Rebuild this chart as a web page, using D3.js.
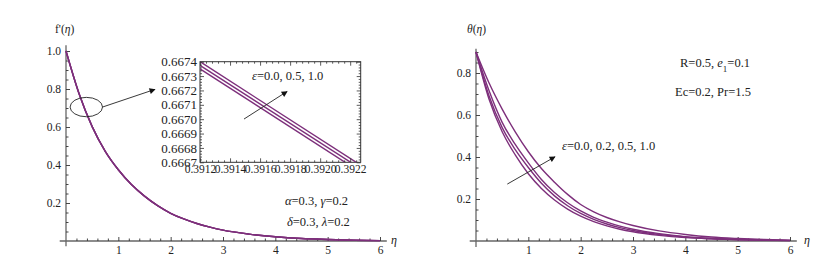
<!DOCTYPE html>
<html>
<head>
<meta charset="utf-8">
<script src="https://cdn.jsdelivr.net/npm/d3@7"></script>
<style>
  html, body { margin: 0; padding: 0; background: #fff; }
  svg text { font-family: "Liberation Serif", "Times New Roman", serif; fill: #222; }
</style>
</head>
<body>
<svg id="chart" width="838" height="264"></svg>
<script>
// velocity f'(eta) for eps = 0.0, 0.5, 1.0 (curves coincide at this scale)
const etaGrid = [0, 0.25, 0.5, 0.75, 1, 1.25, 1.5, 1.75, 2, 2.25, 2.5, 2.75, 3, 3.5, 4, 4.5, 5, 5.5, 6];
const fpEps00 = [1.0, 0.77497, 0.60197, 0.47197, 0.37497, 0.29698, 0.23598, 0.18598, 0.14598, 0.11599, 0.09199, 0.07299, 0.05699, 0.03599, 0.02200, 0.01300, 0.00800, 0.00400, 0.00200];
const fpEps05 = [1.0, 0.77500, 0.60200, 0.47200, 0.37500, 0.29700, 0.23600, 0.18600, 0.14600, 0.11600, 0.09200, 0.07300, 0.05700, 0.03600, 0.02200, 0.01300, 0.00800, 0.00400, 0.00200];
const fpEps10 = [1.0, 0.77503, 0.60203, 0.47203, 0.37503, 0.29702, 0.23602, 0.18602, 0.14602, 0.11601, 0.09201, 0.07301, 0.05701, 0.03601, 0.02200, 0.01300, 0.00800, 0.00400, 0.00200];

// zoomed inset
const insetEta = [0.39120, 0.39227];
const insetEps00 = [0.667350, 0.666630];
const insetEps05 = [0.667375, 0.666655];
const insetEps10 = [0.667400, 0.666680];
const insetYTicks = [0.6667, 0.6668, 0.6669, 0.6670, 0.6671, 0.6672, 0.6673, 0.6674];
const insetXTicks = [0.3912, 0.3914, 0.3916, 0.3918, 0.3920, 0.3922];

// temperature theta(eta) for eps = 0.0, 0.2, 0.5, 1.0
const thetaEps00 = [0.90, 0.675, 0.520, 0.410, 0.320, 0.250, 0.195, 0.152, 0.118, 0.092, 0.072, 0.056, 0.044, 0.027, 0.016, 0.010, 0.006, 0.003, 0.002];
const thetaEps02 = [0.90, 0.690, 0.540, 0.435, 0.350, 0.275, 0.215, 0.168, 0.131, 0.103, 0.081, 0.064, 0.050, 0.031, 0.019, 0.011, 0.007, 0.004, 0.002];
const thetaEps05 = [0.90, 0.715, 0.565, 0.460, 0.372, 0.293, 0.231, 0.182, 0.143, 0.113, 0.090, 0.071, 0.056, 0.035, 0.021, 0.013, 0.008, 0.005, 0.003];
const thetaEps10 = [0.90, 0.752, 0.628, 0.520, 0.425, 0.345, 0.280, 0.222, 0.174, 0.139, 0.112, 0.091, 0.074, 0.048, 0.031, 0.019, 0.012, 0.007, 0.004];

const xTicks = [1, 2, 3, 4, 5, 6];
const leftYTicks = [0.2, 0.4, 0.6, 0.8, 1.0];
const rightYTicks = [0.2, 0.4, 0.6, 0.8];

const curveColor = '#7d2f7b';
const axisColor = '#666';

const svg = d3.select('#chart');

svg.append('defs').append('marker')
    .attr('id', 'arrowhead')
    .attr('viewBox', '0 0 10 10')
    .attr('refX', 9)
    .attr('refY', 5)
    .attr('markerWidth', 9)
    .attr('markerHeight', 6)
    .attr('markerUnits', 'userSpaceOnUse')
    .attr('orient', 'auto')
  .append('path')
    .attr('d', 'M0,0 L10,5 L0,10 z')
    .attr('fill', '#111');

function minorRange(lo, hi, step, majors) {
    const out = [];
    for (let v = lo; v <= hi + 1e-9; v += step) {
        const r = Math.round(v * 1e6) / 1e6;
        if (!majors.some(m => Math.abs(m - r) < 1e-9)) out.push(r);
    }
    return out;
}

function drawAxes(x, y, yTicks, yTop) {
    const g = svg.append('g');
    // axis lines
    g.append('line')
        .attr('x1', x(-0.12)).attr('x2', x(6.13))
        .attr('y1', y(0)).attr('y2', y(0))
        .attr('stroke', axisColor).attr('stroke-width', 1.3);
    g.append('line')
        .attr('x1', x(0)).attr('x2', x(0))
        .attr('y1', y(-0.028)).attr('y2', y(yTop))
        .attr('stroke', axisColor).attr('stroke-width', 1.3);

    // x ticks
    const xa = g.append('g')
        .attr('transform', `translate(0,${y(0)})`)
        .call(d3.axisBottom(x).tickValues(xTicks).tickSize(-4).tickPadding(5).tickFormat(d3.format('d')));
    const xm = g.append('g')
        .attr('transform', `translate(0,${y(0)})`)
        .call(d3.axisBottom(x).tickValues(minorRange(0.2, 6, 0.2, xTicks)).tickSize(-2.5).tickFormat(''));

    // y ticks
    const ya = g.append('g')
        .attr('transform', `translate(${x(0)},0)`)
        .call(d3.axisLeft(y).tickValues(yTicks).tickSize(-4).tickPadding(5).tickFormat(d3.format('.1f')));
    const ym = g.append('g')
        .attr('transform', `translate(${x(0)},0)`)
        .call(d3.axisLeft(y).tickValues(minorRange(0.05, yTop, 0.05, yTicks)).tickSize(-2.5).tickFormat(''));

    [xa, xm, ya, ym].forEach(a => {
        a.select('.domain').remove();
        a.selectAll('line').attr('stroke', '#333').attr('stroke-width', 0.9);
        a.selectAll('text').attr('font-size', '11.5px').attr('font-family', '"Liberation Serif", serif').attr('fill', '#222');
    });
}

function drawCurves(x, y, etas, seriesList) {
    const line = d3.line()
        .x((d, i) => x(etas[i]))
        .y(d => y(d))
        .curve(d3.curveMonotoneX);
    svg.append('g')
        .selectAll('path')
        .data(seriesList)
        .join('path')
            .attr('d', d => line(d))
            .attr('fill', 'none')
            .attr('stroke', curveColor)
            .attr('stroke-width', 1.4);
}

function addText(x, y, parts, size) {
    const t = svg.append('text')
        .attr('x', x).attr('y', y)
        .attr('font-size', size || '12.5px');
    parts.forEach(p => {
        const s = t.append('tspan').text(p.t);
        if (p.i) s.attr('font-style', 'italic');
        if (p.sub) s.attr('baseline-shift', 'sub').attr('font-size', '9px');
    });
    return t;
}

// ---------- left panel ----------
const xL = d3.scaleLinear().domain([0, 6]).range([66, 380]);
const yL = d3.scaleLinear().domain([0, 1]).range([241, 51]);

drawAxes(xL, yL, leftYTicks, 1.03);
drawCurves(xL, yL, etaGrid, [fpEps00, fpEps05, fpEps10]);

addText(55, 33, [{ t: "f'(" }, { t: 'η', i: true }, { t: ')' }], '11.5px');
addText(391, 244, [{ t: 'η', i: true }], '12px');

// ellipse marking the zoomed region
const ellCx = 0.388, ellCy = 0.705;
svg.append('ellipse')
    .attr('cx', xL(ellCx)).attr('cy', yL(ellCy))
    .attr('rx', xL(0.31) - xL(0)).attr('ry', yL(0) - yL(0.051))
    .attr('fill', 'none').attr('stroke', '#222').attr('stroke-width', 0.9);
svg.append('line')
    .attr('x1', xL(ellCx + 0.31)).attr('y1', yL(ellCy))
    .attr('x2', xL(1.70)).attr('y2', yL(0.798))
    .attr('stroke', '#222').attr('stroke-width', 0.9)
    .attr('marker-end', 'url(#arrowhead)');

// inset
const xI = d3.scaleLinear().domain(insetEta).range([200, 360.7]);
const yI = d3.scaleLinear().domain([0.6667, 0.6674]).range([162.3, 61.7]);

svg.append('rect')
    .attr('x', 200).attr('y', 61.7)
    .attr('width', 160.7).attr('height', 100.6)
    .attr('fill', '#fff').attr('stroke', '#333').attr('stroke-width', 1);

svg.append('clipPath').attr('id', 'insetClip')
  .append('rect').attr('x', 200).attr('y', 61.7).attr('width', 160.7).attr('height', 100.6);

const insetLine = d3.line()
    .x((d, i) => xI(insetEta[i]))
    .y(d => yI(d));
svg.append('g')
    .attr('clip-path', 'url(#insetClip)')
    .selectAll('path')
    .data([insetEps00, insetEps05, insetEps10])
    .join('path')
        .attr('d', d => insetLine(d))
        .attr('fill', 'none')
        .attr('stroke', curveColor)
        .attr('stroke-width', 1.4);

function insetAxis(axisFn, scale, tx, ty, ticks, minors, labels, fs) {
    const a = svg.append('g').attr('transform', `translate(${tx},${ty})`)
        .call(axisFn(scale).tickValues(ticks).tickSize(-4).tickPadding(3)
            .tickFormat(labels ? d3.format('.4f') : ''));
    const m = svg.append('g').attr('transform', `translate(${tx},${ty})`)
        .call(axisFn(scale).tickValues(minors).tickSize(-2).tickFormat(''));
    [a, m].forEach(s => {
        s.select('.domain').remove();
        s.selectAll('line').attr('stroke', '#333').attr('stroke-width', 0.8);
        s.selectAll('text').attr('font-size', fs).attr('font-family', '"Liberation Serif", serif').attr('fill', '#222');
    });
}
const insetYMinor = minorRange(0.66672, 0.66738, 0.00002, insetYTicks);
const insetXMinor = minorRange(0.39124, 0.39226, 0.00004, insetXTicks);
insetAxis(d3.axisLeft, yI, 200, 0, insetYTicks, insetYMinor, true, '13px');
insetAxis(d3.axisRight, yI, 360.7, 0, insetYTicks, insetYMinor, false, '13px');
insetAxis(d3.axisBottom, xI, 0, 162.3, insetXTicks, insetXMinor, true, '11.5px');
insetAxis(d3.axisTop, xI, 0, 61.7, insetXTicks, insetXMinor, false, '11.5px');

addText(252, 80, [{ t: 'ε', i: true }, { t: '=0.0, 0.5, 1.0' }]);
svg.append('line')
    .attr('x1', xI(0.391493)).attr('y1', yI(0.667001))
    .attr('x2', xI(0.391780)).attr('y2', yI(0.667193))
    .attr('stroke', '#222').attr('stroke-width', 0.9)
    .attr('marker-end', 'url(#arrowhead)');

addText(285, 205, [{ t: 'α', i: true }, { t: '=0.3, ' }, { t: 'γ', i: true }, { t: '=0.2' }]);
addText(287, 226, [{ t: 'δ', i: true }, { t: '=0.3, ' }, { t: 'λ', i: true }, { t: '=0.2' }]);

// ---------- right panel ----------
const xR = d3.scaleLinear().domain([0, 6]).range([476, 790]);
const yR = d3.scaleLinear().domain([0, 0.8]).range([241, 73]);

drawAxes(xR, yR, rightYTicks, 0.915);
drawCurves(xR, yR, etaGrid, [thetaEps00, thetaEps02, thetaEps05, thetaEps10]);

addText(467, 33, [{ t: 'θ', i: true }, { t: '(' }, { t: 'η', i: true }, { t: ')' }], '11.5px');
addText(804, 244, [{ t: 'η', i: true }], '12px');

addText(680, 67, [{ t: 'R=0.5, ' }, { t: 'e', i: true }, { t: '1', sub: true }, { t: '=0.1' }]);
addText(675, 96, [{ t: 'Ec=0.2, Pr=1.5' }]);
addText(562, 150, [{ t: 'ε', i: true }, { t: '=0.0, 0.2, 0.5, 1.0' }]);

svg.append('line')
    .attr('x1', xR(0.598)).attr('y1', yR(0.271))
    .attr('x2', xR(1.51)).attr('y2', yR(0.401))
    .attr('stroke', '#222').attr('stroke-width', 0.9)
    .attr('marker-end', 'url(#arrowhead)');
</script>
</body>
</html>
